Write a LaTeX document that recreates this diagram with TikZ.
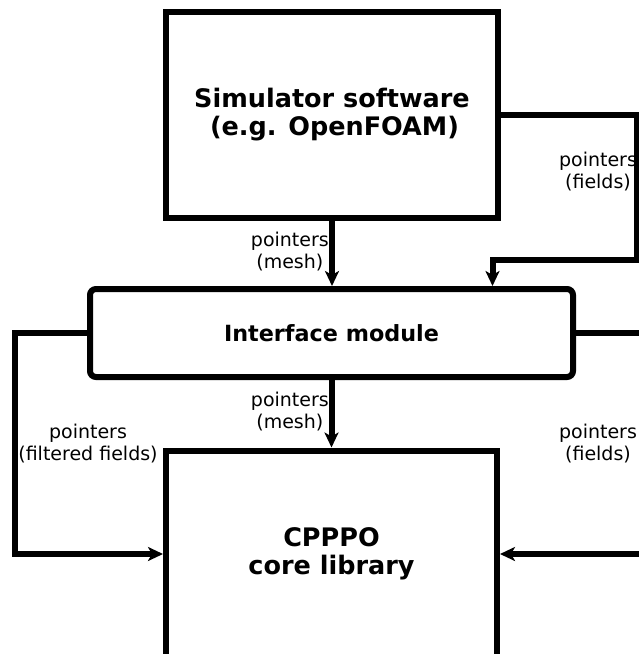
\documentclass[tikz,border=0pt]{standalone}
\usepackage{fontspec}
\setmainfont{DejaVu Sans}
\usetikzlibrary{arrows.meta}
\begin{document}
\begin{tikzpicture}[x=1pt,y=-1pt,
  box/.style={draw, line width=6pt, inner sep=0pt, align=center},
  title/.style={font=\bfseries\fontsize{25.5}{28}\selectfont},
  lab/.style={inner sep=0pt, align=center, font=\fontsize{19}{22}\selectfont},
  conn/.style={line width=6pt},
  arr/.style={conn, -{Stealth[length=15pt,width=14pt,inset=4pt]}}]
\clip (0,0) rectangle (639,654);

% blocks
\node[box, title, minimum width=332pt, minimum height=206pt] (sim) at (332,115)
  {Simulator software\\ \hspace*{5pt}(e.g. OpenFOAM)};
\node[box, rounded corners=6pt, minimum width=483pt, minimum height=88pt,
  font=\bfseries\fontsize{22.3}{26}\selectfont] (iface) at (331.5,333) {Interface module};
\node[box, title, minimum width=331pt, minimum height=207pt] (core) at (331.5,554)
  {CPPPO\\core library};

% bends of the connectors
\coordinate (rtop) at (637,114.5);
\coordinate (rbend) at (492.5,259.5);
\coordinate (lft) at (14.5,333);
\coordinate (rout) at (650,333);
\coordinate (rin) at (650,554);

% connectors
\draw[arr] (sim.south) -- (sim.south |- iface.north);
\draw[arr] (iface.south) -- (iface.south |- core.north);
\draw[arr] (sim.east |- rtop) -- (rtop) |- (rbend) -- (rbend |- iface.north);
\draw[arr] (iface.west) -- (lft) |- (core.west);
\draw[conn] (iface.east) -- (rout);
\draw[arr] (rin) -- (core.east);

% labels
\node[lab, anchor=east] (l1) at (329,252) {pointers\\(mesh)};
\node[lab, anchor=east] (l2) at (329,411.5) {pointers\\(mesh)};
\node[lab] (l3) at (598,172) {pointers\\(fields)};
\node[lab] (l4) at (88,444) {pointers\\(filtered fields)};
\node[lab] (l5) at (598,444) {pointers\\(fields)};
\end{tikzpicture}
\end{document}
